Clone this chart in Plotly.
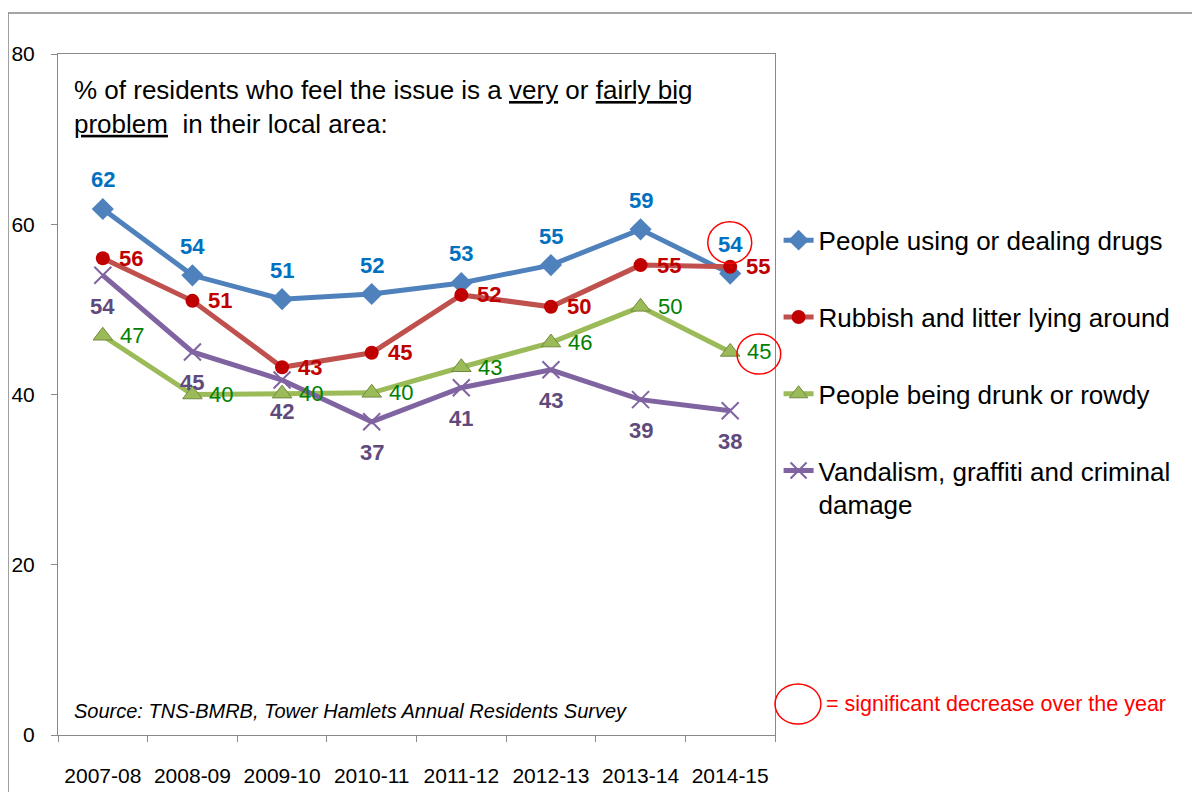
import plotly.graph_objects as go

years = ["2007-08", "2008-09", "2009-10", "2010-11", "2011-12", "2012-13", "2013-14", "2014-15"]
drugs = [61.8, 54.0, 51.2, 51.8, 53.1, 55.2, 59.4, 54.2]
rubbish = [56.0, 51.0, 43.2, 44.9, 51.7, 50.3, 55.2, 55.0]
drunk = [46.9, 40.0, 40.1, 40.2, 43.2, 46.1, 50.3, 45.0]
vandal = [54.0, 45.0, 41.7, 36.8, 40.8, 42.9, 39.4, 38.1]

names = ["People using or dealing drugs", "Rubbish and litter lying around",
         "People being drunk or rowdy", "Vandalism, graffiti and criminal<br>damage"]

FONT = "Arial, Liberation Sans, sans-serif"
fig = go.Figure()

series = [
    dict(y=drugs, name=names[0], lc="#4F81BD", sym="diamond", ms=17, mc="#4F81BD", ml=None,
         tc="#0070C0", bold=True, lab=dict(xanchor="center", yanchor="middle", xshift=0, yshift=29)),
    dict(y=rubbish, name=names[1], lc="#C0504D", sym="circle", ms=14, mc="#C00000", ml=None,
         tc="#C00000", bold=True, lab=dict(xanchor="left", yanchor="middle", xshift=14, yshift=0)),
    dict(y=drunk, name=names[2], lc="#9BBB59", sym="triangle-up", ms=17, mc="#9BBB59",
         ml=dict(color="#71893F", width=1), tc="#008000", bold=False,
         lab=dict(xanchor="left", yanchor="middle", xshift=15, yshift=0)),
    dict(y=vandal, name=names[3], lc="#8064A2", sym="x-thin", ms=17, mc="#8064A2",
         ml=dict(color="#8064A2", width=2), tc="#604A7B", bold=True,
         lab=dict(xanchor="center", yanchor="middle", xshift=0, yshift=-31)),
]

annotations = []
for i, s in enumerate(series):
    marker = dict(symbol=s["sym"], size=s["ms"], color=s["mc"])
    if s["ml"]:
        marker["line"] = s["ml"]
    fig.add_trace(go.Scatter(
        x=years, y=s["y"], name=s["name"], mode="lines+markers", legendgroup=str(i),
        line=dict(color=s["lc"], width=5), marker=marker, hoverinfo="x+y"))
    for xv, yv in zip(years, s["y"]):
        txt = f"{yv:.0f}"
        if s["bold"]:
            txt = f"<b>{txt}</b>"
        annotations.append(dict(x=xv, y=yv, xref="x", yref="y", text=txt, showarrow=False,
                                font=dict(color=s["tc"], size=22, family=FONT), **s["lab"]))

shapes = [
    dict(type="rect", xref="paper", yref="paper", x0=-0.0697, x1=1.7, y0=-0.2, y1=1.0602,
         line=dict(color="#868686", width=1.5), layer="below"),
    dict(type="circle", xref="x", yref="y", x0=6.75, x1=7.24, y0=55.4, y1=60.3,
         line=dict(color="#FF0000", width=1.5)),
    dict(type="circle", xref="paper", yref="paper", x0=0.947, x1=1.008, y0=0.530, y1=0.589,
         line=dict(color="#FF0000", width=1.5)),
    dict(type="circle", xref="paper", yref="paper", x0=1.0, x1=1.064, y0=0.016, y1=0.075,
         line=dict(color="#FF0000", width=1.5)),
]

annotations += [
    dict(xref="paper", yref="paper", x=0.0195, y=0.972, xanchor="left", yanchor="top", align="left",
         showarrow=False, font=dict(size=26, color="black", family=FONT),
         text="% of residents who feel the issue is a <u>very</u> or <u>fairly big</u><br><u>problem</u>  in their local area:"),
    dict(xref="paper", yref="paper", x=0.0195, y=0.035, xanchor="left", yanchor="middle",
         showarrow=False, font=dict(size=20, color="black", family=FONT),
         text="<i>Source: TNS-BMRB, Tower Hamlets Annual Residents Survey</i>"),
    dict(xref="paper", yref="paper", x=1.069, y=0.0455, xanchor="left", yanchor="middle",
         showarrow=False, font=dict(size=21.5, color="#FF0000", family=FONT),
         text="= significant decrease over the year"),
]

fig.update_layout(
    width=1192, height=784,
    margin=dict(l=50, r=425, t=46, b=57, autoexpand=False),
    paper_bgcolor="white", plot_bgcolor="white",
    font=dict(family=FONT, color="black"),
    showlegend=True,
    legend=dict(x=1.005, y=0.761, xanchor="left", yanchor="top",
                font=dict(size=26, color="black", family=FONT),
                tracegroupgap=40, valign="top", itemwidth=30,
                bgcolor="rgba(0,0,0,0)", borderwidth=0),
    shapes=shapes, annotations=annotations,
)
fig.update_xaxes(type="category", range=[-0.5, 7.5], autorange=False,
                 showline=True, linecolor="#898989", linewidth=1, mirror=True,
                 ticks="outside", ticklen=6, tickcolor="#898989", tickson="boundaries",
                 showgrid=False, tickfont=dict(size=21, color="black", family=FONT),
                 tickangle=0, automargin=False, ticklabelstandoff=22)
fig.update_yaxes(range=[0, 80], dtick=20, showline=True, linecolor="#898989", linewidth=1, mirror=True,
                 ticks="outside", ticklen=6, tickcolor="#898989", showgrid=False, zeroline=False,
                 automargin=False,
                 tickfont=dict(size=21, color="black", family=FONT), ticklabelstandoff=12)

fig.write_html("out.html")
